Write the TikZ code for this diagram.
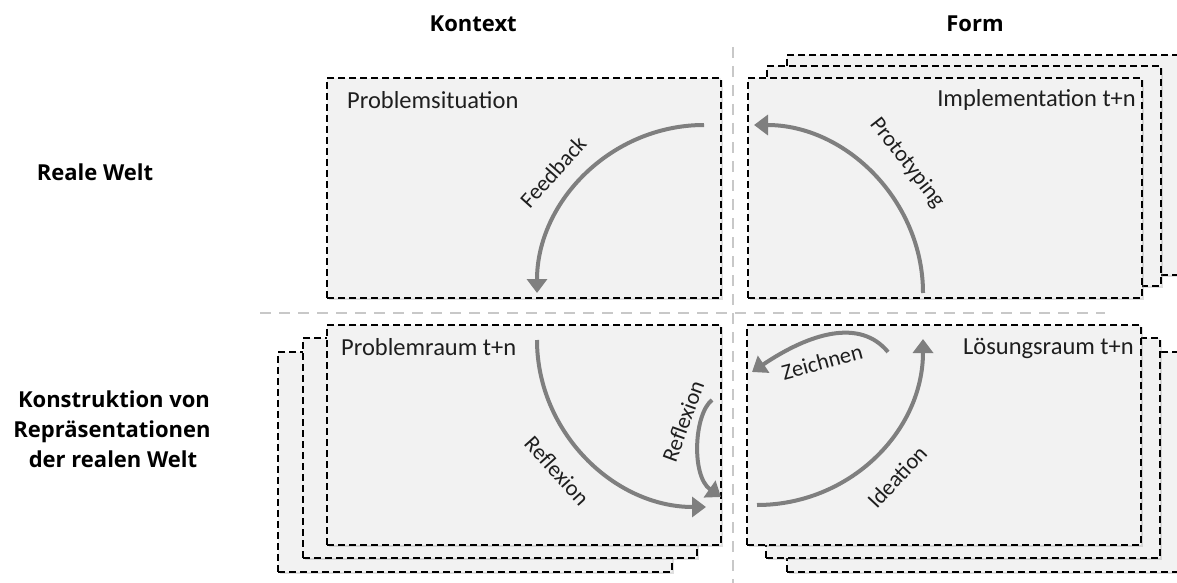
\documentclass[tikz,border=0pt]{standalone}
\usepackage{fontspec}
\setmainfont{Carlito}
\newfontfamily\headfont{Open Sans}
\usetikzlibrary{arrows.meta,shadows}
\definecolor{boxfill}{HTML}{F2F2F2}
\definecolor{flow}{HTML}{7F7F7F}
\definecolor{sepgray}{HTML}{C8C8C8}
\definecolor{ink}{HTML}{1E1E1E}

\begin{document}
\begin{tikzpicture}[x=1pt,y=-1pt,
  panel/.style={draw=black, line width=1.2pt, dash pattern=on 7pt off 4pt,
    fill=boxfill, anchor=north west, minimum width=394pt, minimum height=220pt,
    inner sep=0pt, outer sep=0pt,
    drop shadow={opacity=0.25, shadow xshift=1.5pt, shadow yshift=-2pt}},
  sepline/.style={draw=sepgray, line width=2.5pt, dash pattern=on 11pt off 8pt},
  flowarrow/.style={draw=flow, line width=4pt,
    -{Triangle[length=14pt,width=20pt]}},
  heading/.style={font=\headfont\fontsize{22}{26}\selectfont\bfseries, text=black, inner sep=0pt},
  title/.style={font=\fontsize{24.5}{28}\selectfont, text=ink, inner sep=0pt},
  flowlabel/.style={font=\fontsize{22.5}{26}\selectfont, text=ink, inner sep=0pt},
]
\useasboundingbox (0,0) rectangle (1177,583);
\clip (0,0) rectangle (1177,583);

% column and row dividers
\draw[sepline] (733,47) -- (733,583);
\draw[sepline] (260,313) -- (1105,313);

% column headings
\node[heading, anchor=base east] (hk) at (517,32) {Kontext};
\node[heading, anchor=base] (hf) at (975,32) {Form};

% row headings
\node[heading, anchor=base] (hr) at (95,180) {Reale Welt};
\node[heading, anchor=base] (hc1) at (114,407) {Konstruktion von};
\node[heading, anchor=base] (hc2) at (112,437) {Repräsentationen};
\node[heading, anchor=base] (hc3) at (113,467) {der realen Welt};

% upper left: single panel
\node[panel] (ps) at (327,78) {};

% upper right: stack of three panels
\node[panel] (ib2) at (787,55) {};
\node[panel] (ib1) at (767,66) {};
\node[panel] (im) at (748,78) {};

% lower left: stack of three panels
\node[panel] (pb2) at (278,352) {};
\node[panel] (pb1) at (303,338) {};
\node[panel] (pr) at (327,325) {};

% lower right: stack of three panels
\node[panel] (lb2) at (787,352) {};
\node[panel] (lb1) at (766,338) {};
\node[panel] (lr) at (747,325) {};

% panel titles
\node[title, anchor=base west] (tps) at (347,109) {Problemsituation};
\node[title, anchor=base east] (tim) at (1136,107) {Implementation t+n};
\node[title, anchor=base west] (tpr) at (341,355) {Problemraum t+n};
\node[title, anchor=base east] (tlr) at (1134,354) {Lösungsraum t+n};

% arrow end points
\coordinate (fbA) at (704,125);
\coordinate (fbB) at (537,293);
\coordinate (ptA) at (923,293);
\coordinate (ptB) at (754,125);
\coordinate (rfA) at (537,340);
\coordinate (rfB) at (706,507);
\coordinate (rsA) at (712,400);
\coordinate (rsB) at (721,497);
\coordinate (idA) at (757,505);
\coordinate (idB) at (923,339);
\coordinate (zcA) at (888,352);
\coordinate (zcB) at (752,372);

% flows
\draw[flowarrow] (fbA) .. controls (612,125) and (537,201) .. (fbB);
\draw[flowarrow] (ptA) .. controls (923,201) and (846,125) .. (ptB);
\draw[flowarrow] (rfA) .. controls (537,432) and (614,507) .. (rfB);
\draw[flowarrow] (rsA) .. controls (694,414) and (691,476) .. (rsB);
\draw[flowarrow] (idA) .. controls (849,505) and (923,432) .. (idB);
\draw[flowarrow] (zcA) .. controls (860,318) and (810,333) .. (zcB);

% flow labels
\node[flowlabel, rotate=48] (lfb) at (553,172) {Feedback};
\node[flowlabel, rotate=-52] (lpt) at (907,163) {Prototyping};
\node[flowlabel, rotate=-48] (lrf) at (557,471) {Reflexion};
\node[flowlabel, rotate=70] (lrs) at (683,421) {Reflexion};
\node[flowlabel, rotate=47] (lid) at (897,477) {Ideation};
\node[flowlabel, rotate=15] (lzc) at (822,362) {Zeichnen};
\end{tikzpicture}
\end{document}
